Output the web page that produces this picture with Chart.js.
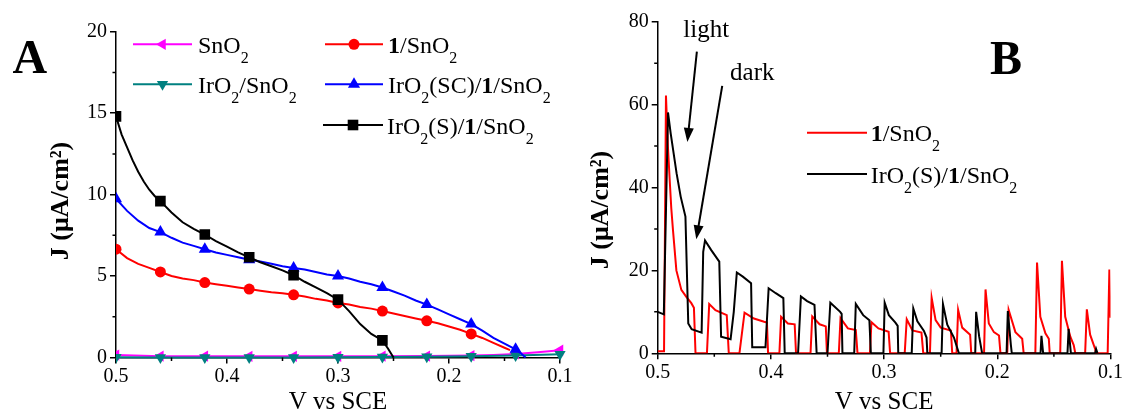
<!DOCTYPE html>
<html>
<head>
<meta charset="utf-8">
<script src="https://cdn.jsdelivr.net/npm/chart.js@4.4.1/dist/chart.umd.min.js"></script>
<style>
  html, body { margin: 0; padding: 0; background: #fff; }
  #wrap { position: relative; width: 1126px; height: 417px; overflow: hidden; }
  #boxA { position: absolute; left: 0; top: 0; width: 580px; height: 417px; }
  #boxB { position: absolute; left: 580px; top: 0; width: 546px; height: 417px; }
</style>
</head>
<body>
<div id="wrap">
  <div id="boxA"><canvas id="chartA" width="580" height="417"></canvas></div>
  <div id="boxB"><canvas id="chartB" width="546" height="417"></canvas></div>
</div>
<script>
// ---- panel A data (V vs SCE, J in uA/cm2) ----
const vA_sno2 = [0.50, 0.46, 0.42, 0.38, 0.34, 0.30, 0.26, 0.22, 0.18, 0.16, 0.14, 0.12, 0.10];
const jA_sno2 = [0.15, 0.08, 0.08, 0.07, 0.07, 0.07, 0.08, 0.09, 0.12, 0.16, 0.22, 0.32, 0.45];

const vA_iro2 = [0.50, 0.46, 0.42, 0.38, 0.34, 0.30, 0.26, 0.22, 0.18, 0.14, 0.10];
const jA_iro2 = [0.02, 0.0, 0.0, 0.0, 0.0, 0.02, 0.03, 0.05, 0.08, 0.12, 0.2];

const vA_red = [0.50, 0.49, 0.48, 0.47, 0.46, 0.45, 0.44, 0.43, 0.42, 0.41, 0.40, 0.39, 0.38, 0.37, 0.36, 0.35, 0.34, 0.33,
  0.32, 0.31, 0.30, 0.29, 0.28, 0.27, 0.26, 0.25, 0.24, 0.23, 0.22, 0.21, 0.20, 0.19, 0.18, 0.17, 0.16, 0.15, 0.145];
const jA_red = [6.65, 6.1, 5.75, 5.5, 5.25, 5.0, 4.85, 4.75, 4.6, 4.5, 4.4, 4.3, 4.2, 4.1, 4.0, 3.95, 3.85, 3.75,
  3.6, 3.5, 3.35, 3.25, 3.1, 3.0, 2.85, 2.7, 2.55, 2.4, 2.25, 2.1, 1.9, 1.7, 1.45, 1.2, 0.9, 0.6, 0.45];

const vA_blue = [0.50, 0.49, 0.48, 0.47, 0.46, 0.45, 0.44, 0.43, 0.42, 0.41, 0.40, 0.39, 0.38, 0.37, 0.36, 0.35, 0.34, 0.33,
  0.32, 0.31, 0.30, 0.29, 0.28, 0.27, 0.26, 0.25, 0.24, 0.23, 0.22, 0.21, 0.20, 0.19, 0.18, 0.17, 0.16, 0.15, 0.14, 0.135, 0.131];
const jA_blue = [9.75, 9.0, 8.4, 7.95, 7.7, 7.35, 7.05, 6.85, 6.65, 6.45, 6.3, 6.15, 6.0, 5.9, 5.75, 5.6, 5.5, 5.4,
  5.25, 5.1, 5.0, 4.85, 4.65, 4.5, 4.3, 4.05, 3.8, 3.5, 3.25, 2.95, 2.65, 2.35, 2.05, 1.65, 1.2, 0.85, 0.5, 0.25, 0.0];

const vA_black = [0.50, 0.495, 0.49, 0.485, 0.48, 0.475, 0.47, 0.465, 0.46, 0.45, 0.44, 0.43, 0.42, 0.41, 0.40, 0.39,
  0.38, 0.37, 0.36, 0.35, 0.34, 0.33, 0.32, 0.31, 0.30, 0.29, 0.28, 0.27, 0.26, 0.255, 0.25];
const jA_black = [14.8, 13.7, 12.9, 12.1, 11.4, 10.8, 10.3, 9.9, 9.6, 8.9, 8.3, 7.9, 7.55, 7.15, 6.8, 6.45,
  6.15, 5.85, 5.6, 5.35, 5.05, 4.65, 4.3, 3.95, 3.55, 2.85, 2.05, 1.45, 1.05, 0.55, 0.0];

const markA = [0.50, 0.46, 0.42, 0.38, 0.34, 0.30, 0.26, 0.22, 0.18, 0.14, 0.10];
const namesA = ['SnO_2', 'IrO_2/SnO_2', '*1*/SnO_2', 'IrO_2(SC)/*1*/SnO_2', 'IrO_2(S)/*1*/SnO_2'];
const ticksAX = [0.5, 0.4, 0.3, 0.2, 0.1];
const minorAX = [0.45, 0.35, 0.25, 0.15];
const ticksAY = [0, 5, 10, 15, 20];
const minorAY = [2.5, 7.5, 12.5, 17.5];

// ---- panel B data (chopped light) ----
const vB_red = [0.5, 0.4944, 0.4927, 0.491, 0.4894, 0.4880, 0.4865, 0.4835, 0.4791, 0.4747, 0.4703, 0.4680, 0.4666,
  0.4565, 0.4545, 0.4490, 0.4390, 0.4372, 0.4278, 0.4233, 0.4150, 0.4060, 0.4035, 0.4025,
  0.3925, 0.3910, 0.3850, 0.3790, 0.3778, 0.3650, 0.3635, 0.3570, 0.3515, 0.3505,
  0.3400, 0.3385, 0.3320, 0.3250, 0.3235, 0.3125, 0.3112, 0.3050, 0.2960, 0.2947,
  0.2818, 0.2800, 0.2750, 0.2670, 0.2654, 0.2595, 0.2580, 0.2545, 0.2500, 0.2410, 0.2398,
  0.2360, 0.2346, 0.2310, 0.2240, 0.2230, 0.2117, 0.2104, 0.2075, 0.2030, 0.1985, 0.1972,
  0.1912, 0.1900, 0.1840, 0.1780, 0.1767, 0.1664, 0.1649, 0.1620, 0.1575, 0.1545, 0.1537,
  0.1444, 0.1429, 0.1400, 0.1355, 0.1325, 0.1311, 0.1224, 0.1209, 0.1180, 0.1135, 0.1130,
  0.1025, 0.1010, 0.1000];
const jB_red = [0.5, 0.5, 62.2, 50, 41.8, 35, 29.7, 20, 15.3, 13.6, 12.1, 11, 0,
  0, 11.9, 10.4, 9.2, 0, 0, 9.8, 8.4, 7.6, 7.4, 0,
  0, 8.8, 7.2, 7.0, 0, 0, 8.9, 7.0, 6.5, 0,
  0, 8.5, 6.0, 5.6, 0, 0, 7.5, 6.0, 5.2, 0,
  0, 8.2, 5.5, 5.0, 0, 0, 13.4, 8.0, 6.2, 5.5, 0,
  0, 10.5, 6.2, 4.5, 0, 0, 15.4, 7.2, 5.1, 4.3, 0,
  0, 10.5, 5.1, 3.5, 0, 0, 21.9, 8.8, 4.8, 3.5, 0,
  0, 22.3, 8.8, 4.0, 2.0, 0, 0, 10.6, 4.5, 1.0, 0,
  0, 20.2, 8.6];

const vB_black = [0.5, 0.4946, 0.4909, 0.4885, 0.4833, 0.4797, 0.4755, 0.4730, 0.4700, 0.4612,
  0.4598, 0.4582, 0.4527, 0.4456, 0.4440, 0.4356, 0.4328, 0.4301, 0.4248, 0.4175, 0.4165,
  0.4048, 0.4020, 0.3957, 0.3890, 0.3878, 0.3760, 0.3735, 0.3680, 0.3615, 0.3596,
  0.3500, 0.3475, 0.3388, 0.3375, 0.3368, 0.3264, 0.3250, 0.3185, 0.3130, 0.3117,
  0.3006, 0.2995, 0.2958, 0.2900, 0.2880, 0.2875, 0.2756, 0.2742, 0.2706, 0.2648, 0.2625, 0.2618,
  0.2492, 0.2480, 0.2442, 0.2383, 0.2339, 0.2195, 0.2187, 0.2160, 0.2134,
  0.1918, 0.1907, 0.1880, 0.1872, 0.1618, 0.1610, 0.1595, 0.1380, 0.1370, 0.1350,
  0.1135, 0.1127, 0.1115];
const jB_black = [10.0, 9.4, 58.1, 53.0, 43.4, 37.8, 33.0, 7.2, 5.8, 5.0,
  24.5, 27.2, 24.9, 22.1, 4.0, 3.4, 10.0, 19.5, 18.5, 16.9, 1.45,
  1.45, 15.7, 14.5, 13.3, 0, 0, 13.7, 12.6, 11.7, 0,
  0, 12.2, 10.0, 9.5, 0, 0, 11.9, 9.2, 8.0, 0,
  0, 12.2, 9.2, 7.4, 6.6, 0, 0, 10.8, 7.7, 5.4, 3.8, 0,
  0, 11.9, 6.9, 3.8, 0, 0, 10.0, 4.0, 0,
  0, 10.2, 2.0, 0, 0, 4.2, 0, 0, 5.9, 0,
  0, 1.0, 0];

const namesB = ['*1*/SnO_2', 'IrO_2(S)/*1*/SnO_2'];
const ticksBX = [0.5, 0.4, 0.3, 0.2, 0.1];
const minorBX = [0.45, 0.35, 0.25, 0.15];
const ticksBY = [0, 20, 40, 60, 80];
const minorBY = [10, 30, 50, 70];
const notesB = [{ text: 'light', v: 0.4774, j: 76.2 }, { text: 'dark', v: 0.4361, j: 65.9 }];
const arrowsB = [[0.4654, 72.8, 0.4738, 51.0], [0.4430, 64.5, 0.4659, 27.5]];

const FONT = '"Liberation Serif", "Times New Roman", serif';
const Y_TITLE = 'J (μA/cm²)';

function pts(xs, ys) { return xs.map((v, i) => ({ x: v, y: ys[i] })); }

// draws text with _x subscripts and *bold* parts
function drawRich(ctx, text, x, y, size) {
  const re = /\*([^*]+)\*|_(.)|([^*_]+)/g;
  let m;
  while ((m = re.exec(text))) {
    let t = m[3], bold = false, sub = false;
    if (m[1]) { t = m[1]; bold = true; }
    else if (m[2]) { t = m[2]; sub = true; }
    const fs = sub ? Math.round(size * 0.65) : size;
    ctx.font = (bold ? 'bold ' : '') + fs + 'px ' + FONT;
    ctx.fillText(t, x, sub ? y + size * 0.42 : y);
    x += ctx.measureText(t).width;
  }
}

const extras = {
  id: 'extras',
  afterDraw(chart, args, o) {
    const ctx = chart.ctx, xs = chart.scales.x, ys = chart.scales.y, area = chart.chartArea;
    ctx.save();
    ctx.strokeStyle = '#000';
    ctx.lineWidth = 1.5;
    ctx.beginPath();
    o.minorX.forEach(v => {
      const px = xs.getPixelForValue(v);
      ctx.moveTo(px, area.bottom); ctx.lineTo(px, area.bottom + 3.5);
    });
    o.minorY.forEach(v => {
      const py = ys.getPixelForValue(v);
      ctx.moveTo(area.left, py); ctx.lineTo(area.left - 3.5, py);
    });
    ctx.stroke();

    // y axis title
    ctx.save();
    ctx.translate(o.yTitle.x, o.yTitle.y);
    ctx.rotate(-Math.PI / 2);
    ctx.fillStyle = '#000';
    ctx.textAlign = 'center';
    ctx.textBaseline = 'middle';
    ctx.font = 'bold 26px ' + FONT;
    ctx.fillText(Y_TITLE, 0, 0);
    ctx.restore();

    // legend
    ctx.textAlign = 'left';
    ctx.textBaseline = 'alphabetic';
    o.legend.forEach(it => {
      ctx.strokeStyle = it.color;
      ctx.fillStyle = it.color;
      ctx.lineWidth = 2;
      ctx.beginPath(); ctx.moveTo(it.x1, it.y); ctx.lineTo(it.x2, it.y); ctx.stroke();
      if (it.style) {
        Chart.helpers.drawPoint(ctx, { pointStyle: it.style, rotation: it.rot || 0, radius: it.r, borderWidth: 0 },
          (it.x1 + it.x2) / 2, it.y);
      }
      ctx.fillStyle = '#000';
      drawRich(ctx, it.name, it.tx, it.y + 8.5, 24);
    });

    // panel letter
    ctx.fillStyle = '#000';
    ctx.font = 'bold 48px ' + FONT;
    ctx.fillText(o.letter.text, o.letter.x, o.letter.y);

    // annotations
    (o.notes || []).forEach(n => {
      ctx.font = '25px ' + FONT;
      ctx.fillText(n.text, xs.getPixelForValue(n.v), ys.getPixelForValue(n.j));
    });
    (o.arrows || []).forEach(a => {
      const x0 = xs.getPixelForValue(a[0]), y0 = ys.getPixelForValue(a[1]);
      const x1 = xs.getPixelForValue(a[2]), y1 = ys.getPixelForValue(a[3]);
      const ang = Math.atan2(y1 - y0, x1 - x0), L = 14, W = 5;
      ctx.strokeStyle = '#000'; ctx.lineWidth = 2;
      ctx.beginPath(); ctx.moveTo(x0, y0);
      ctx.lineTo(x1 - Math.cos(ang) * L * 0.8, y1 - Math.sin(ang) * L * 0.8); ctx.stroke();
      ctx.beginPath();
      ctx.moveTo(x1, y1);
      ctx.lineTo(x1 - Math.cos(ang) * L - Math.sin(ang) * W, y1 - Math.sin(ang) * L + Math.cos(ang) * W);
      ctx.lineTo(x1 - Math.cos(ang) * L + Math.sin(ang) * W, y1 - Math.sin(ang) * L - Math.cos(ang) * W);
      ctx.closePath(); ctx.fill();
    });
    ctx.restore();
  }
};

function makeOptions(p) {
  const tickFont = { family: FONT, size: 20 };
  const grid = { drawOnChartArea: false, drawTicks: true, tickLength: 6, color: '#000', lineWidth: 1.5 };
  const border = { display: true, color: '#000', width: 1.5 };
  return {
    responsive: false,
    animation: false,
    devicePixelRatio: 1,
    events: [],
    layout: { padding: p.padding },
    plugins: { legend: { display: false }, tooltip: { enabled: false }, extras: p.extras },
    scales: {
      x: {
        type: 'linear', reverse: true, min: 0.1, max: 0.5,
        afterBuildTicks: s => { s.ticks = p.xTicks.map(v => ({ value: v })); },
        afterFit: s => { s.height = p.xHeight; },
        ticks: { autoSkip: false, maxRotation: 0, padding: 1, color: '#000', font: tickFont,
          callback: v => Number(v).toFixed(1) },
        grid: grid, border: border,
        title: { display: true, text: 'V vs SCE', color: '#000', font: { family: FONT, size: 25 },
          padding: { top: 0, bottom: 0 } }
      },
      y: {
        type: 'linear', min: p.yTicks[0], max: p.yTicks[p.yTicks.length - 1],
        afterBuildTicks: s => { s.ticks = p.yTicks.map(v => ({ value: v })); },
        afterFit: s => { s.width = p.yWidth; },
        ticks: { padding: 3, color: '#000', font: tickFont },
        grid: grid, border: border,
        title: { display: false }
      }
    }
  };
}

function markerRadius(r) {
  return c => (c.raw && markA.some(m => Math.abs(m - c.raw.x) < 1e-6)) ? r : 0;
}

function seriesA(v, j, color, style, rot, r) {
  return {
    data: pts(v, j), borderColor: color, backgroundColor: color, borderWidth: 2, tension: 0,
    pointStyle: style, pointRotation: rot, pointRadius: markerRadius(r), pointBorderWidth: 0,
    pointBackgroundColor: color, clip: { left: 0, top: 0, right: 10, bottom: false }
  };
}

new Chart(document.getElementById('chartA'), {
  type: 'line',
  plugins: [extras],
  data: {
    datasets: [
      seriesA(vA_black, jA_black, '#000000', 'rect', 0, 7.5),
      seriesA(vA_blue, jA_blue, '#0000FF', 'triangle', 0, 7),
      seriesA(vA_red, jA_red, '#FF0000', 'circle', 0, 5.5),
      seriesA(vA_iro2, jA_iro2, '#008080', 'triangle', 180, 6.5),
      seriesA(vA_sno2, jA_sno2, '#FF00FF', 'triangle', -90, 6.5)
    ]
  },
  options: makeOptions({
    padding: { left: 40, right: 20, top: 31.7, bottom: 0 },
    yWidth: 76, xHeight: 59.5,
    xTicks: ticksAX, yTicks: ticksAY,
    extras: {
      minorX: minorAX, minorY: minorAY,
      yTitle: { x: 61, y: 201 },
      letter: { text: 'A', x: 12.5, y: 73 },
      legend: [
        { name: namesA[0], color: '#FF00FF', style: 'triangle', rot: -90, r: 6.5, x1: 133, x2: 192, tx: 198, y: 44.3 },
        { name: namesA[1], color: '#008080', style: 'triangle', rot: 180, r: 6.5, x1: 133, x2: 192, tx: 198, y: 84.3 },
        { name: namesA[2], color: '#FF0000', style: 'circle', r: 5.5, x1: 325, x2: 383, tx: 388, y: 44.3 },
        { name: namesA[3], color: '#0000FF', style: 'triangle', r: 7, x1: 325, x2: 383, tx: 388, y: 84.3 },
        { name: namesA[4], color: '#000000', style: 'rect', r: 7.5, x1: 323, x2: 383, tx: 387, y: 125 }
      ]
    }
  })
});

new Chart(document.getElementById('chartB'), {
  type: 'line',
  plugins: [extras],
  data: {
    datasets: [
      { data: pts(vB_black, jB_black), borderColor: '#000000', borderWidth: 2, pointRadius: 0, tension: 0 },
      { data: pts(vB_red, jB_red), borderColor: '#FF0000', borderWidth: 2, pointRadius: 0, tension: 0 }
    ]
  },
  options: makeOptions({
    padding: { left: 0, right: 15.5, top: 21.7, bottom: 0 },
    yWidth: 77.7, xHeight: 63.7,
    xTicks: ticksBX, yTicks: ticksBY,
    extras: {
      minorX: minorBX, minorY: minorBY,
      yTitle: { x: 21, y: 210 },
      letter: { text: 'B', x: 410, y: 73.6 },
      notes: notesB, arrows: arrowsB,
      legend: [
        { name: namesB[0], color: '#FF0000', x1: 227, x2: 287, tx: 290.7, y: 132.7 },
        { name: namesB[1], color: '#000000', x1: 227, x2: 287, tx: 290.7, y: 174 }
      ]
    }
  })
});
</script>
</body>
</html>
